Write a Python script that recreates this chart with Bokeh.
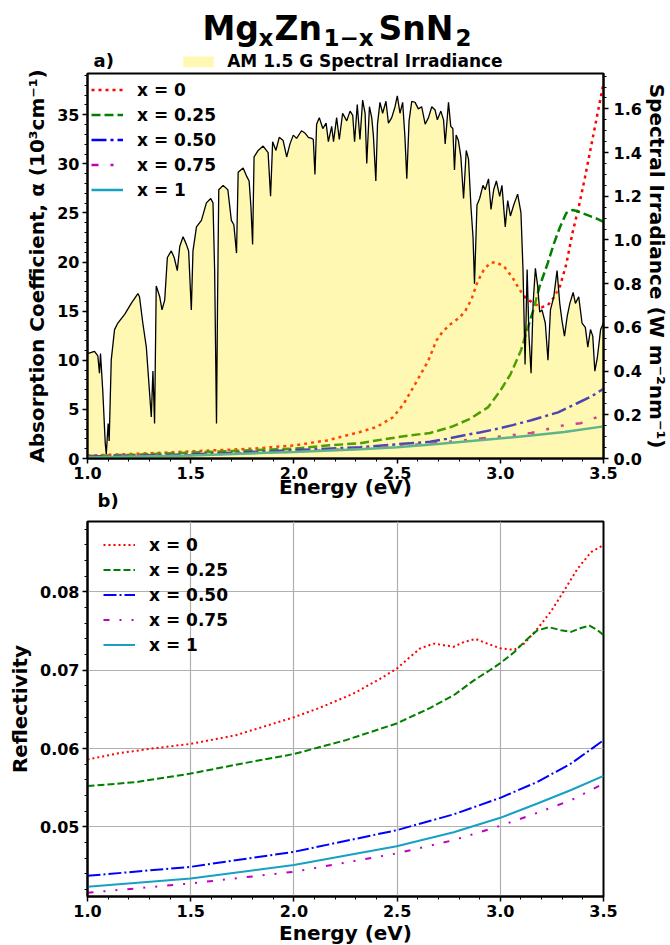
from bokeh.plotting import figure
from bokeh.models import (Range1d, LinearAxis, Legend, LegendItem,
                          SingleIntervalTicker, PrintfTickFormatter)
from bokeh.core.properties import value
from bokeh.layouts import column
from bokeh.embed import file_html
from bokeh.resources import INLINE

FONT = "DejaVu Sans"

# ---------------- data : panel a) ----------------
# AM 1.5 G spectral irradiance (W m^-2 nm^-1) vs photon energy (eV)
irr_E = [1.000, 1.034, 1.050, 1.058, 1.063, 1.074, 1.086, 1.091, 1.100, 1.105,
         1.115, 1.131, 1.147, 1.180, 1.212, 1.244, 1.252, 1.268, 1.285, 1.300,
         1.309, 1.317, 1.325, 1.333, 1.350, 1.361, 1.374, 1.387, 1.406, 1.420,
         1.435, 1.447, 1.463, 1.479, 1.490, 1.503, 1.511, 1.528, 1.552, 1.576,
         1.597, 1.608, 1.616, 1.625, 1.630, 1.636, 1.657, 1.680, 1.697, 1.709,
         1.722, 1.730, 1.754, 1.772, 1.783, 1.792, 1.800, 1.807, 1.827, 1.851,
         1.875, 1.887, 1.897, 1.913, 1.929, 1.948, 1.965, 1.981, 1.997, 2.013,
         2.037, 2.053, 2.070, 2.086, 2.094, 2.102, 2.110, 2.123, 2.140, 2.156,
         2.167, 2.183, 2.192, 2.207, 2.220, 2.236, 2.256, 2.272, 2.285, 2.294,
         2.307, 2.320, 2.333, 2.345, 2.353, 2.366, 2.377, 2.385, 2.397, 2.405,
         2.417, 2.430, 2.446, 2.458, 2.474, 2.490, 2.501, 2.514, 2.527, 2.538,
         2.547, 2.558, 2.571, 2.587, 2.603, 2.619, 2.636, 2.652, 2.668, 2.684,
         2.695, 2.712, 2.725, 2.733, 2.749, 2.760, 2.770, 2.778, 2.786, 2.797,
         2.809, 2.822, 2.835, 2.846, 2.858, 2.868, 2.875, 2.887, 2.900, 2.916,
         2.927, 2.943, 2.955, 2.968, 2.981, 2.997, 3.008, 3.024, 3.036, 3.049,
         3.065, 3.084, 3.100, 3.110, 3.120, 3.130, 3.139, 3.149, 3.159, 3.170,
         3.181, 3.191, 3.202, 3.218, 3.231, 3.243, 3.259, 3.275, 3.288, 3.299,
         3.311, 3.324, 3.337, 3.353, 3.364, 3.380, 3.396, 3.412, 3.424, 3.437,
         3.448, 3.458, 3.470, 3.486, 3.500]
irr_W = [0.48, 0.49, 0.47, 0.39, 0.48, 0.31, 0.07, 0.02, 0.16, 0.08,
         0.45, 0.59, 0.62, 0.66, 0.71, 0.755, 0.74, 0.62, 0.51, 0.31,
         0.19, 0.40, 0.16, 0.79, 0.74, 0.68, 0.725, 0.92, 0.95, 0.92,
         0.86, 0.97, 1.015, 0.98, 0.95, 0.68, 0.95, 1.06, 1.09, 1.17,
         1.19, 1.17, 0.86, 0.16, 0.71, 1.23, 1.25, 1.23, 1.09, 1.07,
         0.94, 1.31, 1.33, 1.29, 1.27, 1.15, 0.98, 1.38, 1.41, 1.43,
         1.40, 1.20, 1.45, 1.41, 1.47, 1.455, 1.38, 1.44, 1.48, 1.465,
         1.50, 1.49, 1.47, 1.465, 1.46, 1.30, 1.53, 1.56, 1.51, 1.535,
         1.45, 1.52, 1.45, 1.56, 1.46, 1.58, 1.545, 1.59, 1.57, 1.45,
         1.62, 1.46, 1.64, 1.58, 1.35, 1.61, 1.56, 1.48, 1.27, 1.53,
         1.63, 1.58, 1.635, 1.535, 1.56, 1.61, 1.66, 1.58, 1.63, 1.47,
         1.28, 1.545, 1.635, 1.63, 1.60, 1.61, 1.53, 1.56, 1.61, 1.595,
         1.55, 1.59, 1.55, 1.44, 1.63, 1.52, 1.51, 1.32, 1.48, 1.455,
         1.38, 1.19, 1.41, 1.37, 1.15, 1.01, 0.80, 1.16, 1.19, 1.25,
         1.23, 1.28, 1.14, 1.23, 1.27, 1.20, 1.25, 1.06, 1.18, 1.11,
         1.16, 1.21, 1.125, 0.865, 0.43, 0.865, 0.56, 0.39, 0.71, 0.87,
         0.79, 0.67, 0.68, 0.62, 0.45, 0.68, 0.74, 0.86, 0.71, 0.63,
         0.56, 0.65, 0.71, 0.76, 0.71, 0.74, 0.62, 0.60, 0.51, 0.59,
         0.56, 0.40, 0.46, 0.59, 0.62]

# absorption coefficient (10^3 cm^-1)
abs0_E = [1.00, 1.20, 1.40, 1.60, 1.80, 2.00, 2.16, 2.32, 2.40, 2.48, 2.53, 2.58,
          2.62, 2.65, 2.69, 2.72, 2.76, 2.80, 2.83, 2.86, 2.89, 2.92, 2.95, 2.98,
          3.02, 3.06, 3.09, 3.12, 3.16, 3.20, 3.23, 3.26, 3.29, 3.32, 3.35, 3.38,
          3.41, 3.44, 3.47, 3.50]
abs0_A = [0.30, 0.45, 0.62, 0.82, 1.00, 1.33, 1.84, 2.70, 3.20, 4.20, 5.50, 7.30,
          8.80, 9.90, 12.0, 12.9, 13.7, 14.3, 15.0, 16.2, 18.0, 19.2, 19.9, 20.0,
          19.5, 18.4, 17.3, 16.4, 15.8, 15.4, 15.6, 16.4, 17.6, 19.8, 23.0, 25.6,
          28.6, 31.8, 35.0, 38.2]
abs25_E = [1.00, 1.25, 1.50, 1.75, 2.00, 2.16, 2.32, 2.40, 2.56, 2.66, 2.71, 2.76,
           2.85, 2.94, 3.00, 3.05, 3.10, 3.13, 3.16, 3.19, 3.23, 3.26, 3.29, 3.32,
           3.35, 3.37, 3.42, 3.47, 3.50]
abs25_A = [0.25, 0.40, 0.60, 0.80, 1.00, 1.33, 1.55, 1.84, 2.35, 2.60, 2.90, 3.20,
           4.00, 5.20, 6.90, 8.60, 11.0, 13.1, 15.1, 17.5, 19.9, 21.9, 23.6, 25.0,
           25.3, 25.2, 24.8, 24.4, 24.1]
abs50_E = [1.00, 1.25, 1.50, 1.835, 2.00, 2.32, 2.50, 2.66, 2.74, 2.82, 2.90, 2.98,
           3.06, 3.15, 3.28, 3.37, 3.44, 3.50]
abs50_A = [0.20, 0.30, 0.42, 0.70, 0.85, 1.15, 1.45, 1.70, 2.00, 2.35, 2.65, 3.00,
           3.40, 3.90, 4.70, 5.60, 6.30, 7.10]
abs75_E = [1.00, 1.50, 2.00, 2.32, 2.66, 2.82, 2.98, 3.15, 3.30, 3.39, 3.45, 3.50]
abs75_A = [0.15, 0.35, 0.70, 1.00, 1.50, 1.84, 2.20, 2.60, 3.35, 3.60, 4.05, 4.50]
abs100_E = [1.00, 1.50, 1.835, 2.00, 2.32, 2.50, 2.71, 2.98, 3.15, 3.31, 3.50]
abs100_A = [0.10, 0.30, 0.55, 0.65, 0.95, 1.15, 1.50, 2.00, 2.35, 2.70, 3.27]

# ---------------- data : panel b) ----------------
ref0_E = [1.0, 1.151, 1.313, 1.5, 1.719, 2.0, 2.125, 2.287, 2.417, 2.498, 2.563,
          2.612, 2.677, 2.726, 2.774, 2.823, 2.88, 2.937, 3.0, 3.067, 3.115, 3.18,
          3.245, 3.31, 3.375, 3.44, 3.5]
ref0_R = [0.0586, 0.0594, 0.0600, 0.0606, 0.0617, 0.0640, 0.0652, 0.0670, 0.0689,
          0.0702, 0.0717, 0.0728, 0.0734, 0.0732, 0.0730, 0.0736, 0.0740, 0.0734,
          0.0728, 0.0726, 0.0734, 0.0753, 0.0775, 0.0802, 0.0830, 0.0851, 0.0860]
ref25_E = [1.0, 1.232, 1.5, 1.752, 2.0, 2.255, 2.498, 2.661, 2.774, 2.872, 2.937,
           3.0, 3.067, 3.131, 3.18, 3.237, 3.294, 3.343, 3.391, 3.432, 3.472, 3.5]
ref25_R = [0.0552, 0.0557, 0.0568, 0.0581, 0.0593, 0.0611, 0.0632, 0.0652, 0.0668,
           0.0687, 0.0698, 0.0709, 0.0723, 0.0740, 0.0751, 0.0755, 0.0751, 0.0749,
           0.0754, 0.0757, 0.0751, 0.0745]
ref_E = [1.0, 1.5, 2.0, 2.498, 2.774, 3.0, 3.18, 3.343, 3.5]
ref50_R = [0.04374, 0.04489, 0.04681, 0.04957, 0.05160, 0.05370, 0.05574, 0.05809, 0.06106]
ref75_R = [0.04157, 0.04277, 0.04426, 0.04660, 0.04830, 0.05013, 0.05179, 0.05340, 0.05553]
ref100_R = [0.04234, 0.04340, 0.04511, 0.04753, 0.04930, 0.05115, 0.05298, 0.05470, 0.05651]

labels = ["x = 0", "x = 0.25", "x = 0.50", "x = 0.75", "x = 1"]
colors = ["#ff0000", "#007f00", "#0000ff", "#bf00bf", "#17a0c4"]
YELLOW = "#ffe800"
YELLOW_ALPHA = 0.3
irr_label = "AM 1.5 G Spectral Irradiance"
x_label = "Energy (eV)"

LEFT, FRAME_W, RIGHT = 87, 516, 64


def style(p):
    p.outline_line_color = "black"
    p.outline_line_width = 2
    p.background_fill_color = "white"
    p.border_fill_color = None
    for ax in p.axis:
        ax.axis_line_width = 2
        ax.major_tick_line_width = 1.5
        ax.minor_tick_line_width = 1
        ax.major_tick_out = 5
        ax.major_tick_in = 0
        ax.minor_tick_out = 3
        ax.minor_tick_in = 0
        ax.major_label_text_font = FONT
        ax.major_label_text_font_style = "bold"
        ax.major_label_text_font_size = "16px"
        ax.major_label_text_color = "black"
        ax.axis_label_text_font = FONT
        ax.axis_label_text_font_style = "bold"
        ax.axis_label_text_font_size = "20px"
        ax.axis_label_text_color = "black"
        ax.major_label_standoff = 3


def make_legend(items, loc, p):
    leg = Legend(items=items, location=loc, padding=0, margin=0, spacing=4,
                 glyph_width=32, glyph_height=21, label_standoff=14,
                 background_fill_alpha=0, border_line_alpha=0,
                 label_text_font=FONT, label_text_font_style="bold",
                 label_text_font_size="17px", label_text_color="black")
    p.add_layout(leg, "center")
    return leg


def head_text(p, xs, ys, texts, size):
    p.text(x=xs, y=ys, text=texts, text_font=value(FONT), text_font_style="bold",
           text_font_size=value(size), text_baseline="middle", text_align="left",
           text_color="black")


# ---------------- header strip: title, "a)" and irradiance key ----------------
# its frame is aligned with the panels below; coordinates are page pixels
HEAD_H = 75
p0 = figure(frame_width=FRAME_W, frame_height=HEAD_H, min_border_left=LEFT,
            min_border_right=RIGHT, min_border_top=0, min_border_bottom=0,
            x_range=Range1d(LEFT, LEFT + FRAME_W), y_range=Range1d(HEAD_H, 0),
            x_axis_location=None, y_axis_location=None,
            output_backend="svg", toolbar_location=None)
p0.grid.visible = False
p0.outline_line_color = None
p0.border_fill_color = None
p0.background_fill_color = None

# MgxZn1-xSnN2 : main pieces and subscript pieces
head_text(p0, [202, 274, 378], [28, 28, 28], ["Mg", "Zn", "SnN"], "33px")
head_text(p0, [258, 323, 455], [37, 37, 37], ["x", "1\u2212x", "2"], "23px")
head_text(p0, [93], [60], ["a)"], "18px")
# legend key for the irradiance fill
p0.quad(left=[182.7], right=[213.3], top=[56], bottom=[66.7], fill_color=YELLOW,
        fill_alpha=YELLOW_ALPHA, line_color=None)
head_text(p0, [226.7], [60.5], [irr_label], "17px")

# ---------------- panel a) ----------------
p1 = figure(frame_width=FRAME_W, frame_height=385, min_border_left=LEFT, min_border_right=RIGHT,
            min_border_top=18, min_border_bottom=48,
            x_range=Range1d(1.0, 3.5), y_range=Range1d(0, 39.2),
            output_backend="svg", toolbar_location=None)
p1.margin = (-20, 0, 0, 0)
p1.extra_y_ranges = {"irr": Range1d(0, 1.762)}
p1.grid.visible = False

a_series = [(abs0_E, abs0_A), (abs25_E, abs25_A), (abs50_E, abs50_A),
            (abs75_E, abs75_A), (abs100_E, abs100_A)]
dash_a = ["3 4", "9 4", "15 4 3 4", "7 12 3 12 3 12", "solid"]
rs = []
for (ex, ay), c, d in zip(a_series, colors, dash_a):
    rs.append(p1.line(ex, ay, line_color=c, line_width=2.5, line_dash=d))

va = p1.varea(x=irr_E, y1=[0] * len(irr_E), y2=irr_W, y_range_name="irr",
              fill_color=YELLOW, fill_alpha=YELLOW_ALPHA)
p1.line(irr_E, irr_W, y_range_name="irr", line_color="black", line_width=1.3)

ax_r = LinearAxis(y_range_name="irr",
                  axis_label="Spectral Irradiance (W m\u207b\u00b2nm\u207b\u00b9)")
p1.add_layout(ax_r, "right")

p1.xaxis.ticker = SingleIntervalTicker(interval=0.5, num_minor_ticks=5)
p1.xaxis.formatter = PrintfTickFormatter(format="%.1f")
p1.xaxis.axis_label = x_label
p1.yaxis[0].ticker = SingleIntervalTicker(interval=5, num_minor_ticks=5)
p1.yaxis[0].formatter = PrintfTickFormatter(format="%d")
p1.yaxis[0].axis_label = "Absorption Coefficient, \u03b1 (10\u00b3cm\u207b\u00b9)"
ax_r.ticker = SingleIntervalTicker(interval=0.2, num_minor_ticks=4)
ax_r.formatter = PrintfTickFormatter(format="%.1f")
style(p1)
p1.xaxis.axis_label_standoff = -7
ax_r.major_label_standoff = 5
ax_r.axis_label_standoff = 0

make_legend([LegendItem(label=l, renderers=[r]) for l, r in zip(labels, rs)], (4, 258), p1)

# ---------------- panel b) ----------------
p2 = figure(title="b)", frame_width=FRAME_W, frame_height=375, min_border_left=LEFT,
            min_border_right=RIGHT, min_border_top=50, min_border_bottom=47,
            x_range=Range1d(1.0, 3.5), y_range=Range1d(0.0411, 0.0890),
            output_backend="svg", toolbar_location=None)
p2.margin = (-35, 0, 0, 0)
p2.title.align = "left"
p2.title.offset = 10
p2.title.standoff = 22
p2.title.text_font = FONT
p2.title.text_font_style = "bold"
p2.title.text_font_size = "18px"
p2.title.text_color = "black"
p2.grid.grid_line_color = "#b0b0b0"
p2.grid.grid_line_width = 1.2
b_series = [(ref0_E, ref0_R), (ref25_E, ref25_R), (ref_E, ref50_R),
            (ref_E, ref75_R), (ref_E, ref100_R)]
dash_b = ["2 3", "7 3", "13 3 2 3", "6 10 2 10 2 10", "solid"]
rb = []
for (ex, ry), c, d in zip(b_series, colors, dash_b):
    rb.append(p2.line(ex, ry, line_color=c, line_width=2, line_dash=d))

p2.xaxis.ticker = SingleIntervalTicker(interval=0.5, num_minor_ticks=5)
p2.xaxis.formatter = PrintfTickFormatter(format="%.1f")
p2.xaxis.axis_label = x_label
p2.yaxis.ticker = SingleIntervalTicker(interval=0.01, num_minor_ticks=5)
p2.yaxis.formatter = PrintfTickFormatter(format="%.2f")
p2.yaxis.axis_label = "Reflectivity"
style(p2)
p2.xaxis.axis_label_standoff = 1

make_legend([LegendItem(label=l, renderers=[r]) for l, r in zip(labels, rb)], (16, 241), p2)

layout = column(p0, p1, p2)
open("out.html", "w").write(file_html(layout, INLINE))
